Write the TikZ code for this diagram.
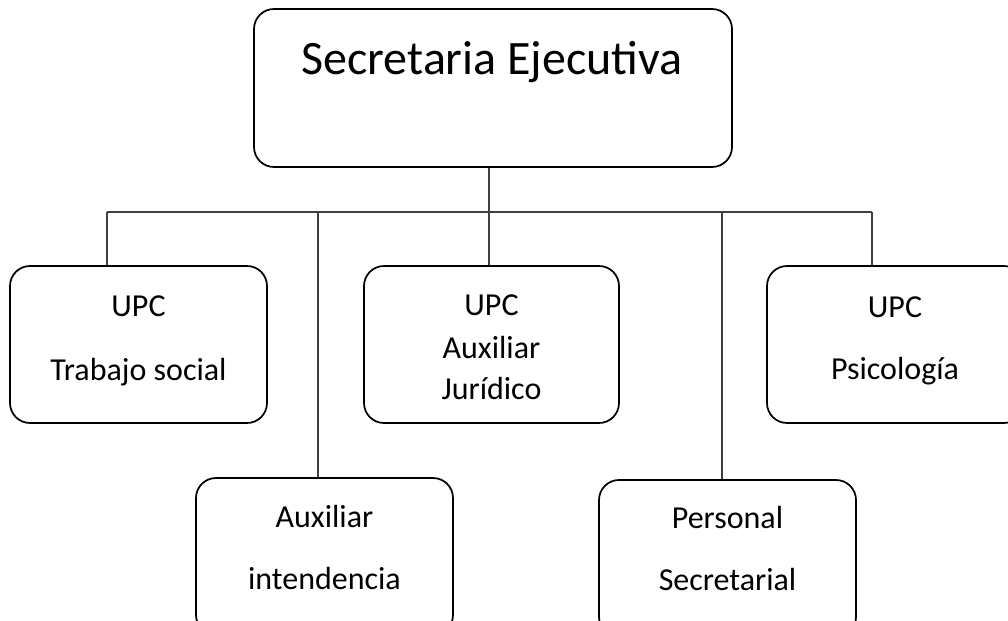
\documentclass[tikz,border=0pt]{standalone}
\usepackage{fontspec}
\setmainfont{Carlito}
\begin{document}
\begin{tikzpicture}[x=0.75pt,y=-0.75pt]
            \tikzstyle{every node}+=[inner sep=0pt]
            \tikzset{
              unitbox/.style={draw=black, line width=1.3pt, rounded corners=15pt,
                minimum width=192.75pt, minimum height=117.75pt},
              bigtext/.style={anchor=base, font=\fontsize{36}{40}\selectfont},
              smalltext/.style={anchor=base, font=\fontsize{24}{28}\selectfont},
              link/.style={draw=black!75, line width=0.9pt}
            }
            \useasboundingbox (0,0) rectangle (1008,621);
            \clip (0,0) rectangle (1008,621);
            % boxes
            \node [unitbox, minimum width=358.5pt, minimum height=118.5pt] (top) at (493,88) {};
            \node [unitbox] (social) at (138.5,344.5) {};
            \node [unitbox, minimum width=191.25pt] (juridico) at (491.5,344.5) {};
            \node [unitbox] (psico) at (895.5,344.5) {};
            \node [unitbox] (intend) at (324.5,556.5) {};
            \node [unitbox] (secret) at (727.5,558.5) {};
            % texts
            \node [bigtext] (topA) at (492,74) {Secretaria Ejecutiva};
            \node [smalltext] (socialA) at (138.5,316) {UPC};
            \node [smalltext] (socialB) at (138.5,380) {Trabajo social};
            \node [smalltext] (juridicoA) at (491.5,315) {UPC};
            \node [smalltext] (juridicoB) at (491.5,358) {Auxiliar};
            \node [smalltext] (juridicoC) at (491.5,399) {Jurídico};
            \node [smalltext] (psicoA) at (895,317) {UPC};
            \node [smalltext] (psicoB) at (895,379) {Psicología};
            \node [smalltext] (intendA) at (324.5,527) {Auxiliar};
            \node [smalltext] (intendB) at (324.5,589) {intendencia};
            \node [smalltext] (secretA) at (727.5,528) {Personal};
            \node [smalltext] (secretB) at (727.5,590) {Secretarial};
            % connectors
            \coordinate (busL) at (107,212);
            \coordinate (busR) at (872,212);
            \coordinate (busM) at (489,212);
            \coordinate (dropA) at (318,212);
            \coordinate (dropB) at (722,212);
            \path [link] (top.south -| busM) -- (busM);
            \path [link] (busL) -- (busR);
            \path [link] (busL) -- (busL |- social.north);
            \path [link] (dropA) -- (dropA |- intend.north);
            \path [link] (busM) -- (busM |- juridico.north);
            \path [link] (dropB) -- (dropB |- secret.north);
            \path [link] (busR) -- (busR |- psico.north);
\end{tikzpicture}
\end{document}
